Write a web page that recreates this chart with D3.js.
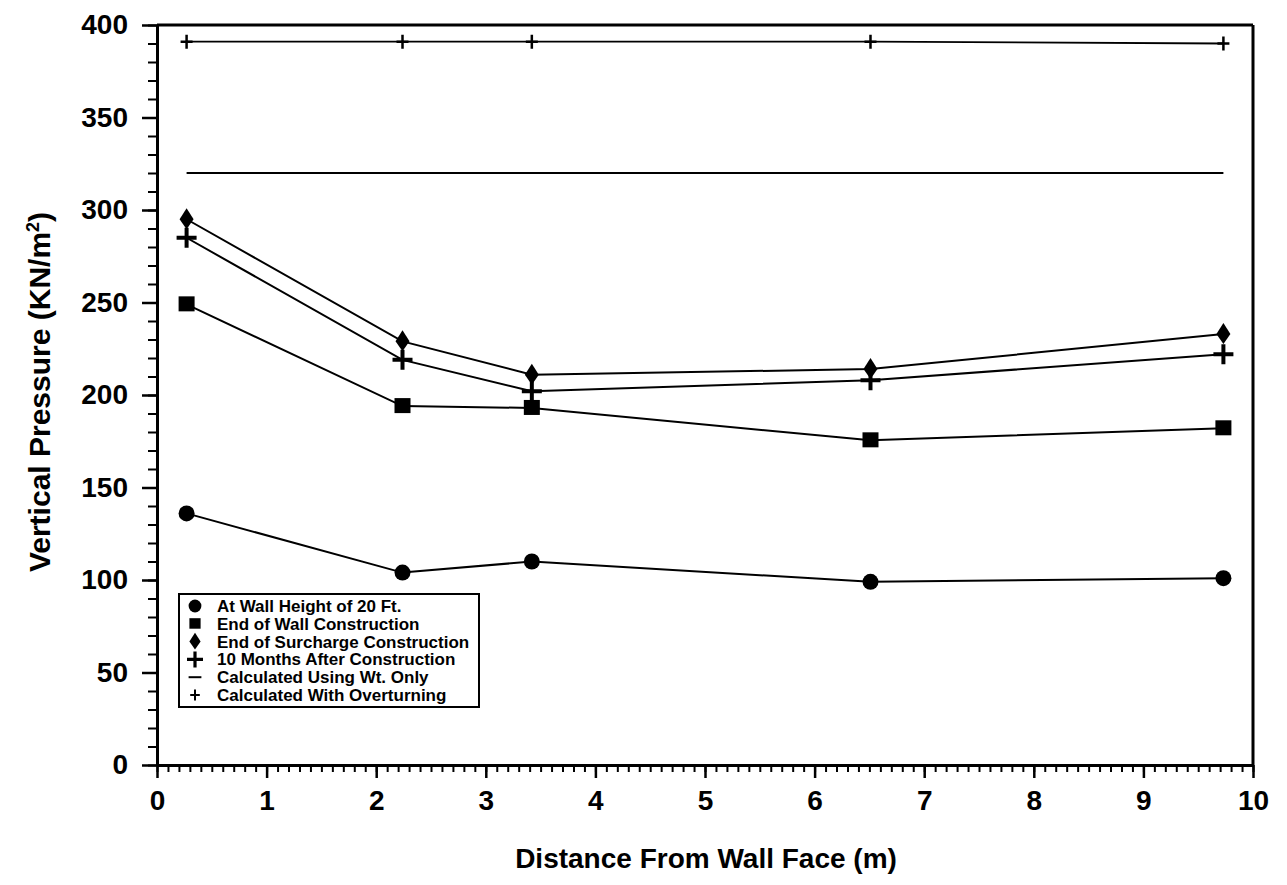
<!DOCTYPE html>
<html>
<head>
<meta charset="utf-8">
<script src="https://cdn.jsdelivr.net/npm/d3@7"></script>
<style>
  html, body { margin: 0; padding: 0; background: #fff; overflow: hidden; }
  svg { display: block; }
  text { font-family: "Liberation Sans Narrow", "Arial Narrow", "Liberation Sans", sans-serif; font-weight: bold; fill: #000; }
  .axis path, .axis line { stroke: #000; }
</style>
</head>
<body>
<div id="chart"></div>
<script>
// distances from wall face (m)
var distances = [0.27, 2.24, 3.42, 6.51, 9.73];

var wallHeight20 = [136, 104, 110, 99, 101];
var endWall = [249, 194, 193, 175.5, 182];
var endSurcharge = [295, 229, 211, 214, 233];
var tenMonths = [285, 219, 202, 208, 222];
var calcWtOnly = [320, 320, 320, 320, 320];
var calcOverturning = [391, 391, 391, 391, 390];

var legendLabels = [
  "At Wall Height of 20 Ft.",
  "End of Wall Construction",
  "End of Surcharge Construction",
  "10 Months After Construction",
  "Calculated Using Wt. Only",
  "Calculated With Overturning"
];

var xTicks = [0, 1, 2, 3, 4, 5, 6, 7, 8, 9, 10];
var yTicks = [0, 50, 100, 150, 200, 250, 300, 350, 400];

var width = 1287, height = 885;
var margin = {top: 25, right: 34, bottom: 120, left: 157};
var innerWidth = width - margin.left - margin.right;
var innerHeight = height - margin.top - margin.bottom;

var svg = d3.select('#chart')
      .append('svg')
      .attr('width', width)
      .attr('height', height);

var g = svg.append('g')
      .attr('transform', 'translate(' + margin.left + ',' + margin.top + ')');

var xScale = d3.scaleLinear().domain([0, 10]).range([0, innerWidth]);
var yScale = d3.scaleLinear().domain([0, 400]).range([innerHeight, 0]);

// minor ticks first (no labels)
g.append('g')
  .attr('class', 'axis')
  .attr('transform', 'translate(0,' + innerHeight + ')')
  .call(d3.axisBottom(xScale).ticks(100).tickSize(7))
  .call(function(s) { s.select('.domain').remove(); s.selectAll('text').remove(); s.selectAll('line').attr('stroke-width', 2); });

g.append('g')
  .attr('class', 'axis')
  .call(d3.axisLeft(yScale).ticks(40).tickSize(9))
  .call(function(s) { s.select('.domain').remove(); s.selectAll('text').remove(); s.selectAll('line').attr('stroke-width', 2); });

// major x axis
var xAxis = g.append('g')
  .attr('class', 'axis')
  .attr('transform', 'translate(0,' + innerHeight + ')')
  .call(d3.axisBottom(xScale).tickValues(xTicks).tickSize(13).tickSizeOuter(0).tickPadding(12));
xAxis.select('.domain').attr('stroke-width', 3);
xAxis.selectAll('line').attr('stroke-width', 2.5);
xAxis.selectAll('text').style('font-size', '28px');

// major y axis
var yAxis = g.append('g')
  .attr('class', 'axis')
  .call(d3.axisLeft(yScale).tickValues(yTicks).tickSize(15).tickSizeOuter(0).tickPadding(14));
yAxis.select('.domain').attr('stroke-width', 3);
yAxis.selectAll('line').attr('stroke-width', 2.5);
yAxis.selectAll('text').style('font-size', '28px');

// frame top and right
g.append('line')
  .attr('x1', 0).attr('x2', innerWidth)
  .attr('y1', yScale(400)).attr('y2', yScale(400))
  .attr('stroke', '#000').attr('stroke-width', 3);
g.append('line')
  .attr('x1', xScale(10)).attr('x2', xScale(10))
  .attr('y1', yScale(400)).attr('y2', innerHeight)
  .attr('stroke', '#000').attr('stroke-width', 3);

// axis titles
svg.append('text')
  .attr('x', 706)
  .attr('y', 868)
  .attr('text-anchor', 'middle')
  .style('font-size', '28px')
  .text('Distance From Wall Face (m)');

var yt = svg.append('text')
  .attr('transform', 'translate(50,392) rotate(-90)')
  .attr('text-anchor', 'middle')
  .style('font-size', '30px');
yt.append('tspan').text('Vertical Pressure (KN/m');
yt.append('tspan').attr('dy', -11).style('font-size', '18px').text('2');
yt.append('tspan').attr('dy', 11).text(')');

// series
var series = [
  {values: wallHeight20, symbol: 'circle', width: 2},
  {values: endWall, symbol: 'square', width: 2},
  {values: endSurcharge, symbol: 'diamond', width: 2},
  {values: tenMonths, symbol: 'plus', width: 2},
  {values: calcWtOnly, symbol: 'none', width: 2},
  {values: calcOverturning, symbol: 'thinplus', width: 1.8}
];

var line = d3.line()
  .x(function(d) { return xScale(d.x); })
  .y(function(d) { return yScale(d.y); });

function drawSymbol(sel, symbol) {
  if (symbol === 'circle') {
    sel.append('circle').attr('r', 8).attr('fill', '#000');
  } else if (symbol === 'square') {
    sel.append('rect').attr('x', -8).attr('y', -8).attr('width', 16).attr('height', 15).attr('fill', '#000');
  } else if (symbol === 'diamond') {
    sel.append('path').attr('d', 'M0,-11 L7,0 L0,10 L-7,0 Z').attr('fill', '#000');
  } else if (symbol === 'plus') {
    sel.append('path').attr('d', 'M-10,0 H10 M0,-10 V10').attr('stroke', '#000').attr('stroke-width', 4);
  } else if (symbol === 'thinplus') {
    sel.append('path').attr('d', 'M-6,0 H6 M0,-7 V7').attr('stroke', '#000').attr('stroke-width', 2.5);
  } else if (symbol === 'dash') {
    sel.append('path').attr('d', 'M-8,0 H8').attr('stroke', '#000').attr('stroke-width', 2.5);
  }
}

series.forEach(function(s) {
  var pts = s.values.map(function(v, i) { return {x: distances[i], y: v}; });
  g.append('path')
    .datum(pts)
    .attr('fill', 'none')
    .attr('stroke', '#000')
    .attr('stroke-width', s.width)
    .attr('d', line);
  if (s.symbol !== 'none') {
    g.selectAll(null)
      .data(pts)
      .enter()
      .append('g')
      .attr('transform', function(d) { return 'translate(' + xScale(d.x) + ',' + yScale(d.y) + ')'; })
      .each(function() { drawSymbol(d3.select(this), s.symbol); });
  }
});

// legend
var legend = svg.append('g').attr('transform', 'translate(179,594)');
legend.append('rect')
  .attr('width', 300).attr('height', 113)
  .attr('fill', '#fff').attr('stroke', '#000').attr('stroke-width', 2);

var legendSymbols = ['circle', 'square', 'diamond', 'plus', 'dash', 'thinplus'];
var rows = legend.selectAll('.row')
  .data(legendLabels)
  .enter()
  .append('g')
  .attr('class', 'row')
  .attr('transform', function(d, i) { return 'translate(16,' + (12 + i * 17.8) + ')'; });

rows.each(function(d, i) {
  var r = d3.select(this);
  var sym = legendSymbols[i];
  var sg = r.append('g').attr('transform', sym === 'circle' ? 'scale(0.8)' : (sym === 'square' ? 'scale(0.7)' : 'scale(0.8)'));
  drawSymbol(sg, sym);
  r.append('text')
    .attr('x', 22)
    .attr('y', 6)
    .style('font-size', '17px')
    .text(d);
});
</script>
</body>
</html>
